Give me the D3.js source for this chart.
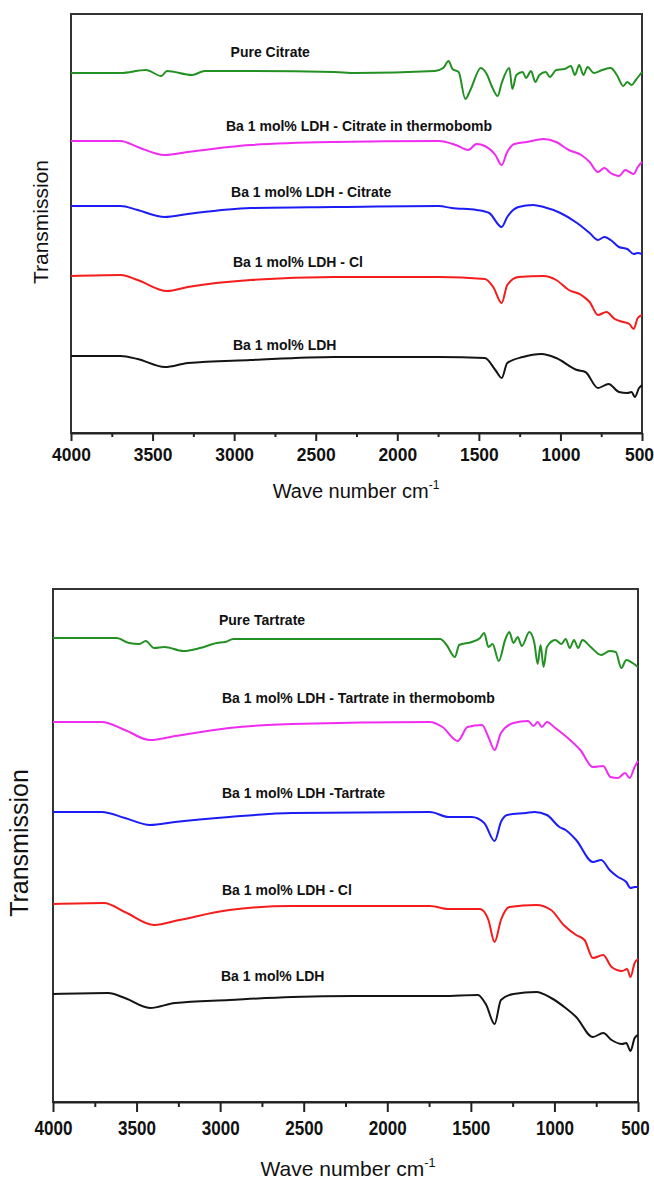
<!DOCTYPE html>
<html>
<head>
<meta charset="utf-8">
<script src="https://cdn.jsdelivr.net/npm/d3@7"></script>
<style>
  body { margin: 0; background: #fff; }
  svg { display: block; font-family: "Liberation Sans", Arial, sans-serif; }
</style>
</head>
<body>
<svg id="chart" width="654" height="1180"></svg>
<script>
// wave numbers (cm-1) with offset transmission (a.u.)

// --- citrate panel
var citrateNames = ["Pure Citrate", "Ba 1 mol% LDH - Citrate in thermobomb", "Ba 1 mol% LDH - Citrate", "Ba 1 mol% LDH - Cl", "Ba 1 mol% LDH"];
var citPure = [[4000,360],[3695,360],[3541,363],[3446,357],[3412,362],[3258,358],[3181,362],[2899,362],[2386,361],[2258,360],[1770,362],[1719,365],[1685,372],[1662,364],[1624,361],[1583,334],[1552,343],[1488,365],[1449,358],[1424,348],[1385,337],[1360,350],[1313,365],[1295,344],[1270,358],[1231,361],[1211,355],[1180,362],[1154,351],[1129,358],[1090,361],[1065,356],[1026,363],[975,364],[936,367],[911,358],[885,368],[859,358],[834,366],[795,360],[744,363],[692,365],[654,358],[615,347],[590,351],[564,348],[538,353],[500,361]];
var citThermo = [[4000,292],[3695,292],[3592,286],[3425,278],[3284,281],[2899,288],[2386,291],[1745,292],[1642,288],[1565,283],[1514,289],[1463,287],[1399,278],[1360,268],[1329,280],[1283,289],[1206,291],[1103,294],[1026,291],[949,283],[872,278],[821,271],[770,261],[731,265],[692,260],[641,257],[602,263],[577,261],[551,259],[526,266],[500,271]];
var citLdh = [[4000,227],[3695,227],[3592,223],[3425,216],[3284,219],[2899,225],[2386,226],[1745,227],[1667,225],[1514,223],[1437,220],[1360,206],[1326,216],[1257,226],[1167,228],[1103,226],[1000,220],[898,210],[821,200],[770,193],[731,196],[692,193],[641,186],[590,184],[551,179],[526,180],[500,179]];
var citCl = [[4000,157],[3695,158],[3592,153],[3412,142],[3284,146],[2899,153],[2386,156],[1745,156],[1463,154],[1412,146],[1360,130],[1326,148],[1257,156],[1103,157],[1026,153],[949,143],[872,138],[821,131],[770,118],[718,121],[667,114],[615,111],[577,109],[551,104],[526,115],[500,118]];
var citBase = [[4000,77],[3695,77],[3592,74],[3425,66],[3284,70],[2899,73],[2386,76],[1745,76],[1463,75],[1399,63],[1360,55],[1326,70],[1231,76],[1116,79],[1026,75],[898,63],[847,61],[770,45],[705,49],[641,41],[590,40],[564,41],[544,36],[518,45],[500,48]];

// --- tartrate panel
var tartrateNames = ["Pure Tartrate", "Ba 1 mol% LDH - Tartrate in thermobomb", "Ba 1 mol% LDH -Tartrate", "Ba 1 mol% LDH - Cl", "Ba 1 mol% LDH"];
var tarPure = [[4000,464],[3620,464],[3545,459],[3483,458],[3445,461],[3395,454],[3333,455],[3220,451],[3120,454],[3020,459],[2970,460],[2920,463],[2570,463],[2070,463],[1745,463],[1683,463],[1645,457],[1595,445],[1570,457],[1495,460],[1445,464],[1420,469],[1395,455],[1370,458],[1333,441],[1295,462],[1270,470],[1245,459],[1220,465],[1195,456],[1150,470],[1120,459],[1100,438],[1083,457],[1065,435],[1045,455],[995,462],[958,458],[933,463],[908,454],[883,462],[858,454],[833,462],[783,455],[720,447],[670,451],[633,450],[600,434],[570,442],[533,439],[500,435]];
var tarThermo = [[4000,380],[3708,380],[3570,372],[3420,362],[3270,366],[2945,374],[2570,378],[1745,380],[1670,375],[1578,361],[1520,375],[1433,377],[1395,365],[1358,352],[1320,369],[1245,379],[1158,381],[1125,376],[1100,380],[1075,375],[1045,380],[995,374],[920,364],[845,352],[770,335],[708,336],[665,325],[620,324],[578,329],[550,324],[520,335],[500,341]];
var tarLdh = [[4000,290],[3708,290],[3570,284],[3420,277],[3270,280],[2945,285],[2570,289],[1745,290],[1633,285],[1495,285],[1420,279],[1358,261],[1320,280],[1283,287],[1170,289],[1120,290],[1045,287],[970,275],[933,272],[870,262],[770,240],[720,242],[670,232],[620,225],[570,220],[545,214],[520,215],[500,215]];
var tarCl = [[4000,198],[3695,199],[3570,190],[3395,177],[3245,182],[2945,192],[2570,196],[1745,196],[1633,193],[1445,193],[1395,182],[1358,160],[1320,182],[1270,195],[1108,197],[1020,192],[945,177],[870,167],[820,162],[770,144],[708,147],[658,135],[595,131],[565,133],[545,125],[520,139],[500,143]];
var tarBase = [[4000,108],[3670,109],[3570,104],[3420,94],[3270,99],[2945,102],[2570,105],[2195,106],[1670,106],[1458,107],[1408,97],[1358,78],[1320,102],[1245,108],[1108,110],[1020,104],[933,94],[870,85],[770,65],[708,69],[658,62],[595,58],[570,59],[545,51],[520,64],[500,67]];

var majorTicks = [4000, 3500, 3000, 2500, 2000, 1500, 1000, 500];
var minorTicks = [3750, 3250, 2750, 2250, 1750, 1250, 750];
var xTitle = "Wave number cm";
var yTitle = "Transmission";

var colors = ["#239023", "#f02cf0", "#1c1cf5", "#f51c1c", "#141414"];

var svg = d3.select('#chart');
svg.append('rect').attr('width', 654).attr('height', 1180).attr('fill', '#fff');

var panels = [
    {
        series: [citPure, citThermo, citLdh, citCl, citBase], names: citrateNames,
        // label anchors in data units (wave number, transmission)
        labelAt: [[3022,376],[3050,302],[3019,236],[3007,166],[3007,83]],
        left: 71, right: 642, top: 14, bottom: 433, yMax: 419,
        major: 8, minor: 4, pad: 7, tickFont: 18, digitW: 9.7,
        yLab: [48, 222, 21], xLab: [356, 498, 20]
    },
    {
        series: [tarPure, tarThermo, tarLdh, tarCl, tarBase], names: tartrateNames,
        labelAt: [[3007,477],[2989,399],[2989,304],[2989,207],[2995,121]],
        left: 53, right: 638, top: 589, bottom: 1102, yMax: 513,
        major: 10, minor: 5, pad: 9, tickFont: 20, digitW: 9.5,
        yLab: [28, 843, 25], xLab: [348, 1176, 21]
    }
];

panels.forEach(function(p) {
    var x = d3.scaleLinear().domain([4000, 500]).range([p.left, p.right]);
    var y = d3.scaleLinear().domain([0, p.yMax]).range([p.bottom, p.top]);

    // frame
    svg.append('rect')
        .attr('x', p.left).attr('y', p.top)
        .attr('width', p.right - p.left).attr('height', p.bottom - p.top)
        .attr('fill', 'none')
        .attr('stroke', '#333')
        .attr('stroke-width', 2);

    var line = d3.line()
        .x(function(d) { return x(d[0]); })
        .y(function(d) { return y(d[1]); })
        .curve(d3.curveMonotoneX);

    p.series.forEach(function(s, i) {
        svg.append('path')
            .datum(s)
            .attr('d', line)
            .attr('fill', 'none')
            .attr('stroke', colors[i])
            .attr('stroke-width', 2)
            .attr('stroke-linejoin', 'round');

        svg.append('text')
            .attr('x', x(p.labelAt[i][0]))
            .attr('y', y(p.labelAt[i][1]))
            .attr('font-size', 14)
            .attr('font-weight', 'bold')
            .attr('fill', '#111')
            .text(p.names[i]);
    });

    // minor ticks
    svg.append('g')
        .attr('transform', 'translate(0,' + p.bottom + ')')
        .call(d3.axisBottom(x).tickValues(minorTicks).tickSize(p.minor).tickFormat(''))
        .call(function(g) { g.select('.domain').remove(); })
        .selectAll('line').attr('stroke', '#222').attr('stroke-width', 2);

    // major ticks + labels
    var ax = svg.append('g')
        .attr('transform', 'translate(0,' + p.bottom + ')')
        .call(d3.axisBottom(x).tickValues(majorTicks).tickSize(p.major).tickSizeOuter(0).tickPadding(p.pad).tickFormat(d3.format('d')));
    ax.select('.domain').attr('stroke', '#222').attr('stroke-width', 2);
    ax.selectAll('line').attr('stroke', '#222').attr('stroke-width', 2);
    ax.selectAll('text')
        .attr('font-family', '"Liberation Sans", Arial, sans-serif')
        .attr('font-size', p.tickFont)
        .attr('font-weight', 'bold')
        .attr('fill', '#111')
        .attr('textLength', function(d) { return String(d).length * p.digitW; })
        .attr('lengthAdjust', 'spacingAndGlyphs')
        // keep the last label inside the page edge
        .attr('dx', function(d) { return d === 500 ? -3 : 0; });

    // y title
    svg.append('text')
        .attr('transform', 'translate(' + p.yLab[0] + ',' + p.yLab[1] + ') rotate(-90)')
        .attr('text-anchor', 'middle')
        .attr('font-size', p.yLab[2])
        .attr('fill', '#111')
        .text(yTitle);

    // x title with superscript
    var t = svg.append('text')
        .attr('x', p.xLab[0]).attr('y', p.xLab[1])
        .attr('text-anchor', 'middle')
        .attr('font-size', p.xLab[2])
        .attr('fill', '#111');
    t.append('tspan').text(xTitle);
    t.append('tspan')
        .attr('dy', -p.xLab[2] * 0.45)
        .attr('font-size', p.xLab[2] * 0.6)
        .text('-1');
});
</script>
</body>
</html>
